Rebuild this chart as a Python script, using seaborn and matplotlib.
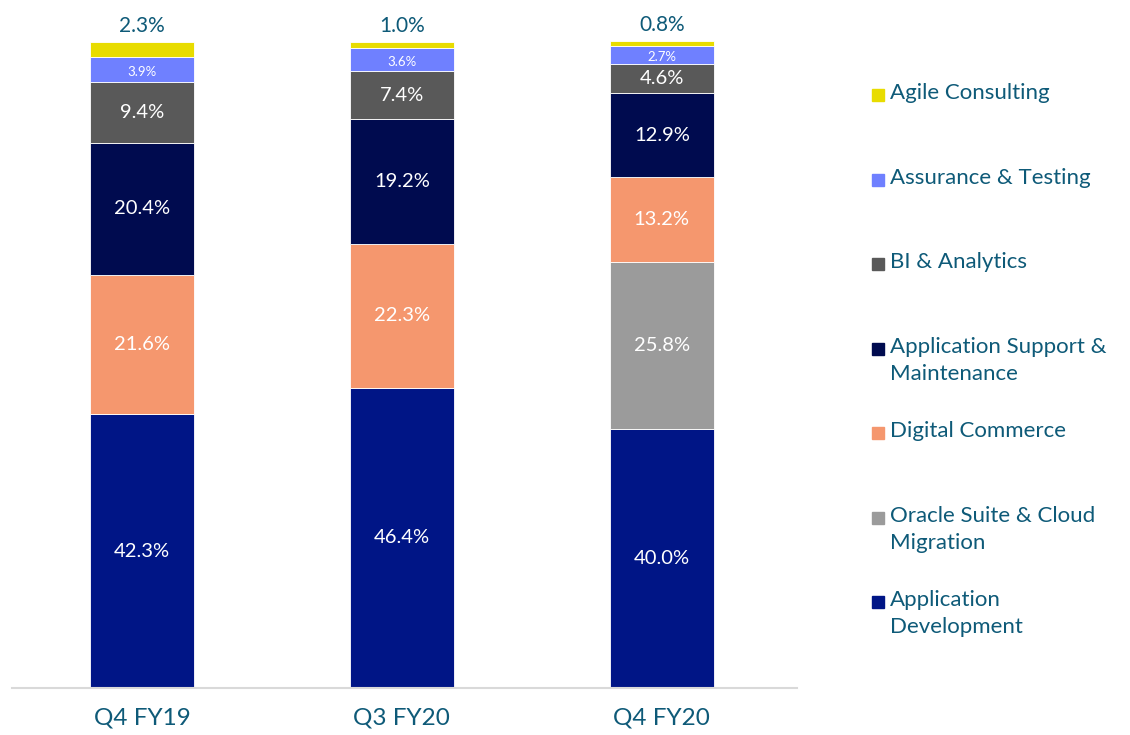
import matplotlib
matplotlib.use("Agg")
import matplotlib.pyplot as plt
import numpy as np
import pandas as pd
import seaborn as sns

# data, bottom segment first
quarters = ['Q4 FY19', 'Q3 FY20', 'Q4 FY20']
segments = ['Application Development', 'Oracle Suite & Cloud Migration',
            'Digital Commerce', 'Application Support & Maintenance',
            'BI & Analytics', 'Assurance & Testing', 'Agile Consulting']
legend_labels = ['Application\nDevelopment', 'Oracle Suite & Cloud\nMigration',
                 'Digital Commerce', 'Application Support &\nMaintenance',
                 'BI & Analytics', 'Assurance & Testing', 'Agile Consulting']
app_dev = [42.3, 46.4, 40.0]
oracle = [0.0, 0.0, 25.8]
digital = [21.6, 22.3, 13.2]
app_support = [20.4, 19.2, 12.9]
bi = [9.4, 7.4, 4.6]
assurance = [3.9, 3.6, 2.7]
agile = [2.3, 1.0, 0.8]

colors = ['#001586', '#9B9B9B', '#F5976E', '#000B4F', '#595959', '#6F80FF', '#E8DC00']
text_col = '#0E5A78'

sns.set_style('white')
plt.rcParams['font.family'] = ['Lato', 'DejaVu Sans']

values = [app_dev, oracle, digital, app_support, bi, assurance, agile]
df = pd.DataFrame({s: v for s, v in zip(segments, values)}, index=quarters)

fig = plt.figure(figsize=(11.3, 7.35), dpi=100)
ax = fig.add_axes([12 / 1130, 47 / 735, 785 / 1130, 647 / 735])

bottom = np.zeros(len(quarters))
for seg, col in zip(segments, colors):
    vals = df[seg].values
    sns.barplot(x=quarters, y=vals, bottom=bottom, color=col, width=0.4,
                edgecolor='white', linewidth=0.6, ax=ax, saturation=1)
    for i, v in enumerate(vals):
        if v <= 0:
            continue
        mid = bottom[i] + v / 2
        if seg == 'Agile Consulting':
            ax.text(i, bottom[i] + v + 2.4, f'{v:.1f}%', ha='center', va='center',
                    color=text_col, fontsize=15)
        elif seg == 'Assurance & Testing':
            ax.text(i, mid - 0.4, f'{v:.1f}%', ha='center', va='center',
                    color='white', fontsize=9.5)
        else:
            ax.text(i, mid, f'{v:.1f}%', ha='center', va='center',
                    color='white', fontsize=14.5)
    bottom = bottom + vals

ax.set_xlim(-0.5, 2.52)
ax.set_ylim(0, 100)
ax.set_yticks([])
ax.set_xlabel('')
ax.tick_params(axis='x', length=0, pad=14, labelsize=17.5, labelcolor=text_col)
for sp in ['top', 'right', 'left']:
    ax.spines[sp].set_visible(False)
ax.spines['bottom'].set_color('#D9D9D9')
ax.spines['bottom'].set_linewidth(1.5)

# legend on the right, top entry first
for k, idx in enumerate(range(len(segments) - 1, -1, -1)):
    ytop = 1 - (95 + k * 84.5) / 735
    fig.patches.append(plt.Rectangle((872 / 1130, ytop - 6 / 735), 12 / 1130, 12 / 735,
                                     transform=fig.transFigure, color=colors[idx]))
    fig.text(890 / 1130, ytop + 12 / 735, legend_labels[idx], ha='left', va='top',
             color=text_col, fontsize=16, linespacing=1.45)

fig.savefig('out.png', dpi=100)
